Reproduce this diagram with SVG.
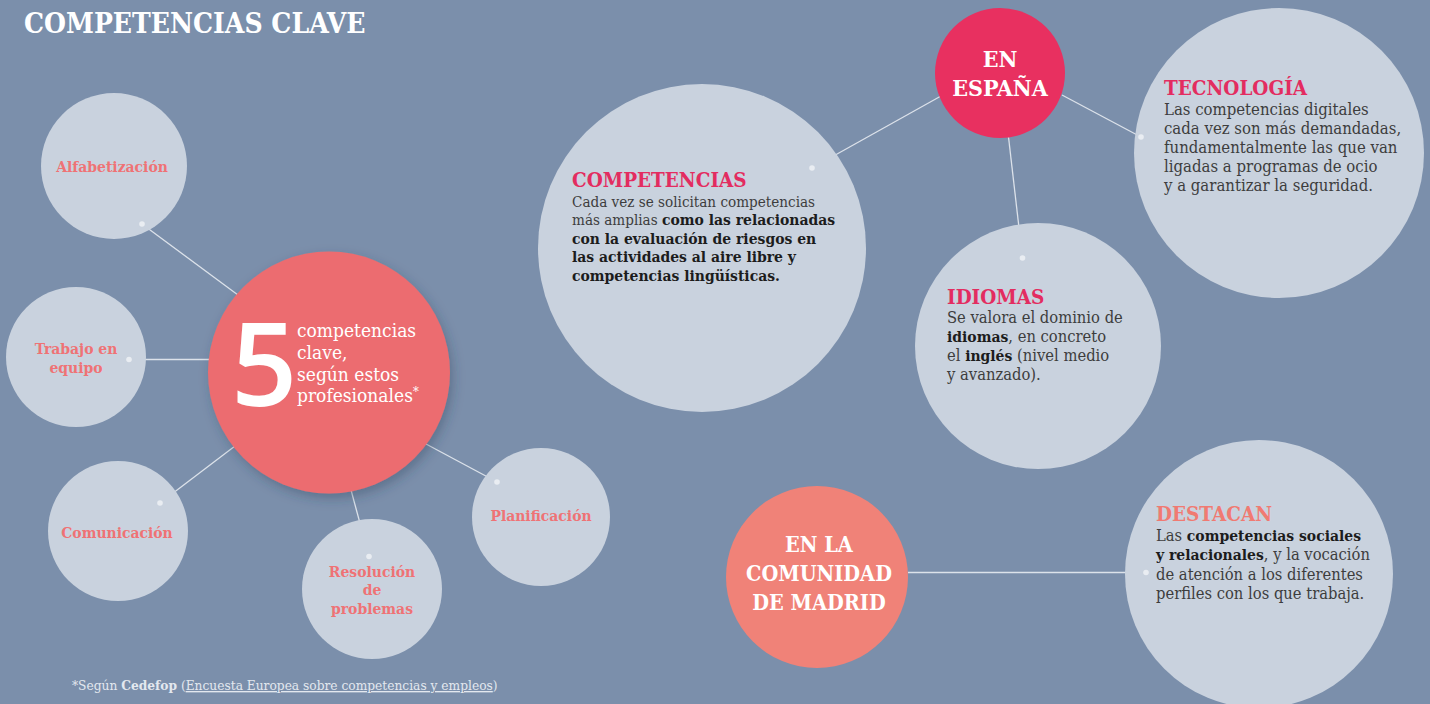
<svg xmlns="http://www.w3.org/2000/svg" width="1430" height="704" viewBox="0 0 1430 704">
<defs>
<style>
.bg{fill:#7b8fab}
.lc{fill:#c9d2de}
.ln{stroke:#dce2ea;stroke-width:1.3;fill:none}
.dot{fill:#e9edf2}
text{font-family:"DejaVu Serif Condensed","DejaVu Serif",serif}
.lbl{font-size:15.5px;font-weight:bold;fill:#ef7275;text-anchor:middle}
.hd{font-size:20.5px;font-weight:bold;fill:#e32c60}
.bd{font-size:16.4px;fill:#3d3d3d}
.bd1{font-size:15.1px;fill:#3d3d3d}
.b{font-weight:bold;fill:#1c1c1c;font-size:15.5px}
.wt{fill:#ffffff;text-anchor:middle;font-weight:bold}
.w5{fill:#ffffff;font-size:19px}
</style>
<filter id="sh" x="-20%" y="-20%" width="150%" height="150%">
<feDropShadow dx="3" dy="5" stdDeviation="6" flood-color="#2c3a55" flood-opacity="0.35"/>
</filter>
</defs>
<rect class="bg" x="0" y="0" width="1430" height="704"/>
<text x="24" y="33" font-size="28" font-weight="bold" fill="#ffffff">COMPETENCIAS CLAVE</text>

<g id="connectors">
<line class="ln" x1="142" y1="224" x2="238" y2="295"/>
<line class="ln" x1="129" y1="359.5" x2="212" y2="359.5"/>
<line class="ln" x1="160" y1="503" x2="235" y2="446"/>
<line class="ln" x1="369" y1="556.5" x2="351" y2="490"/>
<line class="ln" x1="497" y1="482" x2="426" y2="444"/>
<line class="ln" x1="812" y1="168" x2="941" y2="96"/>
<line class="ln" x1="1141" y1="137" x2="1062" y2="95"/>
<line class="ln" x1="1022.5" y1="258" x2="1008.5" y2="137"/>
<line class="ln" x1="1146" y1="572.5" x2="908" y2="572.5"/>
</g>

<g id="n-alfabetizacion"><circle class="lc" cx="114" cy="166" r="73"/><text class="lbl" x="112" y="172">Alfabetización</text><circle class="dot" cx="142" cy="224" r="2.8"/></g>
<g id="n-trabajo"><circle class="lc" cx="76" cy="357" r="70"/><text class="lbl" x="76" y="354">Trabajo en</text><text class="lbl" x="76" y="373">equipo</text><circle class="dot" cx="129" cy="359.5" r="2.8"/></g>
<g id="n-comunicacion"><circle class="lc" cx="118" cy="531" r="70"/><text class="lbl" x="117" y="538">Comunicación</text><circle class="dot" cx="160" cy="503" r="2.8"/></g>
<g id="n-resolucion"><circle class="lc" cx="372" cy="589" r="70"/><text class="lbl" x="372" y="577">Resolución</text><text class="lbl" x="372" y="595">de</text><text class="lbl" x="372" y="614">problemas</text><circle class="dot" cx="369" cy="556.5" r="2.8"/></g>
<g id="n-planificacion"><circle class="lc" cx="541" cy="517" r="69"/><text class="lbl" x="541" y="521">Planificación</text><circle class="dot" cx="497" cy="482" r="2.8"/></g>

<g id="n-cinco"><circle cx="329" cy="372.5" r="121" fill="#ec6c6f" filter="url(#sh)"/>
<text x="231" y="406" style="font-family:'Open Sans',sans-serif;font-size:116px;font-weight:600" fill="#ffffff">5</text>
<text class="w5" x="297" y="337">competencias</text>
<text class="w5" x="297" y="359">clave,</text>
<text class="w5" x="297" y="381">según estos</text>
<text class="w5" x="297" y="402">profesionales<tspan font-size="13" dy="-6">*</tspan></text>
</g>

<g id="n-competencias"><circle class="lc" cx="702" cy="248" r="164"/><circle class="dot" cx="812" cy="168" r="2.8"/>
<text class="hd" x="572" y="187">COMPETENCIAS</text>
<text class="bd1" x="572" y="206.5">Cada vez se solicitan competencias</text>
<text class="bd1" x="572" y="225">más amplias <tspan class="b">como las relacionadas</tspan></text>
<text class="bd1 b" x="572" y="243.5">con la evaluación de riesgos en</text>
<text class="bd1 b" x="572" y="262">las actividades al aire libre y</text>
<text class="bd1 b" x="572" y="280.5">competencias lingüísticas.</text>
</g>

<g id="n-espana"><circle cx="1000" cy="73" r="65" fill="#e83060"/>
<text class="wt" x="1000" y="66.5" font-size="23">EN</text>
<text class="wt" x="1000" y="95.5" font-size="23">ESPAÑA</text>
</g>

<g id="n-tecnologia"><circle class="lc" cx="1279" cy="153" r="145"/><circle class="dot" cx="1141" cy="137" r="2.8"/>
<text class="hd" x="1164" y="95">TECNOLOGÍA</text>
<text class="bd" x="1164" y="114.5" style="font-size:16.6px">Las competencias digitales</text>
<text class="bd" x="1164" y="133.8" style="font-size:16.6px">cada vez son más demandadas,</text>
<text class="bd" x="1164" y="153" style="font-size:16.6px">fundamentalmente las que van</text>
<text class="bd" x="1164" y="172.4" style="font-size:16.6px">ligadas a programas de ocio</text>
<text class="bd" x="1164" y="191.3" style="font-size:16.6px">y a garantizar la seguridad.</text>
</g>

<g id="n-idiomas"><circle class="lc" cx="1038" cy="346" r="123"/><circle class="dot" cx="1022.5" cy="258" r="2.8"/>
<text class="hd" x="947" y="304">IDIOMAS</text>
<text class="bd" x="947" y="322.5">Se valora el dominio de</text>
<text class="bd" x="947" y="341.5"><tspan class="b">idiomas</tspan>, en concreto</text>
<text class="bd" x="947" y="360.5">el <tspan class="b">inglés</tspan> (nivel medio</text>
<text class="bd" x="947" y="380">y avanzado).</text>
</g>

<g id="n-comunidad"><circle cx="817" cy="577" r="91" fill="#f08278"/>
<text class="wt" x="819" y="552" font-size="21.5">EN LA</text>
<text class="wt" x="819" y="581" font-size="21.5">COMUNIDAD</text>
<text class="wt" x="819" y="609.5" font-size="21.5">DE MADRID</text>
</g>

<g id="n-destacan"><circle class="lc" cx="1259" cy="574" r="134"/><circle class="dot" cx="1146" cy="572.5" r="2.8"/>
<text class="hd" x="1156" y="521" style="fill:#f07a72">DESTACAN</text>
<text class="bd" x="1156" y="541">Las <tspan class="b">competencias sociales</tspan></text>
<text class="bd" x="1156" y="560"><tspan class="b">y relacionales</tspan>, y la vocación</text>
<text class="bd" x="1156" y="579.5">de atención a los diferentes</text>
<text class="bd" x="1156" y="598.5">perfiles con los que trabaja.</text>
</g>

<text x="72" y="690" font-size="13.6" fill="#e3e8ef">*Según <tspan font-weight="bold">Cedefop</tspan> (<tspan text-decoration="underline">Encuesta Europea sobre competencias y empleos</tspan>)</text>
</svg>
